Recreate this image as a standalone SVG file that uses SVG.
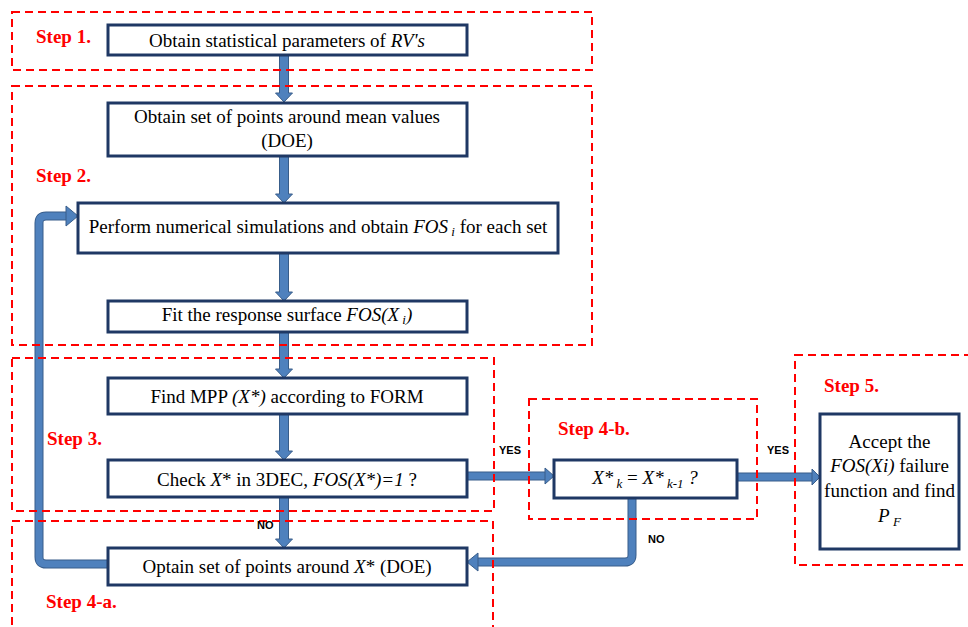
<svg xmlns="http://www.w3.org/2000/svg" width="968" height="627" viewBox="0 0 968 627">
<style>
.dash{fill:none;stroke:#FF0000;stroke-width:2;stroke-dasharray:8 5}
.node{fill:#fff;stroke:#1F3864;stroke-width:3}
.t{font-family:"Liberation Serif","Times New Roman",serif;font-size:19px;fill:#000;text-anchor:middle}
.i{font-style:italic}
.sub{font-style:italic;font-size:13px}
.step{font-family:"Liberation Serif","Times New Roman",serif;font-weight:bold;font-size:19px;fill:#FF0000}
.lbl{font-family:"Liberation Sans",Arial,sans-serif;font-weight:bold;font-size:11px;fill:#000}
.so{fill:none;stroke:#385D8A;stroke-width:9;stroke-linejoin:round}
.si{fill:none;stroke:#4F81BD;stroke-width:7;stroke-linejoin:round}
.ar{fill:#4F81BD;stroke:#385D8A;stroke-width:1}
</style>
<rect width="968" height="627" fill="#fff"/>
<g id="connectors">
  <polygon class="ar" points="279.5,55 288.5,55 288.5,93 292.5,93 284,102 275.5,93 279.5,93"/>
  <polygon class="ar" points="279.5,156 288.5,156 288.5,194 292.5,194 284,203 275.5,194 279.5,194"/>
  <polygon class="ar" points="279.5,253 288.5,253 288.5,292 292.5,292 284,301 275.5,292 279.5,292"/>
  <polygon class="ar" points="279.5,332 288.5,332 288.5,369 292.5,369 284,378 275.5,369 279.5,369"/>
  <polygon class="ar" points="279.5,414 288.5,414 288.5,451 292.5,451 284,460 275.5,451 279.5,451"/>
  <polygon class="ar" points="279.5,497 288.5,497 288.5,539 292.5,539 284,548 275.5,539 279.5,539"/>
  <path class="so" d="M108,564 H46 Q39,564 39,557 V223 Q39,216 46,216 H66"/>
  <path class="si" d="M108,564 H46 Q39,564 39,557 V223 Q39,216 46,216 H66"/>
  <polygon class="ar" points="66,206 78,216 66,226"/>
  <path class="so" d="M467,476 H545"/>
  <path class="si" d="M467,476 H545"/>
  <polygon class="ar" points="545,468 554,476 545,484"/>
  <path class="so" d="M737,477 H812"/>
  <path class="si" d="M737,477 H812"/>
  <polygon class="ar" points="812,469 820,477 812,485"/>
  <path class="so" d="M632,498 V555 Q632,562 625,562 H478"/>
  <path class="si" d="M632,498 V555 Q632,562 625,562 H478"/>
  <polygon class="ar" points="478,553 467,562 478,571"/>
</g>
<g id="n1"><rect class="node" x="108" y="25" width="359" height="30"/>
  <text class="t" x="287" y="47">Obtain statistical parameters of <tspan class="i">RV's</tspan></text></g>
<g id="n2"><rect class="node" x="108" y="103" width="359" height="53"/>
  <text class="t" x="287" y="123">Obtain set of points around mean values</text>
  <text class="t" x="287" y="147">(DOE)</text></g>
<g id="n3"><rect class="node" x="78" y="203" width="480" height="50"/>
  <text class="t" x="318" y="233">Perform numerical simulations and obtain <tspan class="i">FOS</tspan><tspan class="sub" dy="3"> i</tspan><tspan dy="-3">  for each set</tspan></text></g>
<g id="n4"><rect class="node" x="108" y="301" width="359" height="31"/>
  <text class="t" x="287" y="321">Fit the response surface <tspan class="i">FOS(X</tspan><tspan class="sub" dy="3"> i</tspan><tspan class="i" dy="-3">)</tspan></text></g>
<g id="n5"><rect class="node" x="108" y="378" width="359" height="36"/>
  <text class="t" x="287" y="403">Find MPP <tspan class="i">(X*)</tspan>  according to FORM</text></g>
<g id="n6"><rect class="node" x="108" y="460" width="359" height="37"/>
  <text class="t" x="287" y="486">Check <tspan class="i">X</tspan>*  in 3DEC, <tspan class="i">FOS(X*)=1</tspan> ?</text></g>
<g id="n7"><rect class="node" x="108" y="548" width="359" height="37"/>
  <text class="t" x="287" y="573">Optain set of points around <tspan class="i">X</tspan>*  (DOE)</text></g>
<g id="n4b"><rect class="node" x="554" y="460" width="183" height="38"/>
  <text class="t" x="645" y="484"><tspan class="i">X*</tspan><tspan class="sub" dy="4"> k</tspan><tspan dy="-4"> = </tspan><tspan class="i">X*</tspan><tspan class="sub" dy="4"> k-1</tspan><tspan class="i" dy="-4"> ?</tspan></text></g>
<g id="n5s"><rect class="node" x="820" y="414" width="139" height="135"/>
  <text class="t" x="889.5" y="448">Accept the</text>
  <text class="t" x="889.5" y="472"><tspan class="i">FOS(Xi)</tspan>  failure</text>
  <text class="t" x="889.5" y="497">function and find</text>
  <text class="t" x="889.5" y="522"><tspan class="i">P</tspan><tspan class="sub" dy="4"> F</tspan></text></g>
<g id="steps">
  <rect class="dash" x="12" y="12" width="580" height="58"/>
  <rect class="dash" x="12" y="86" width="580" height="259"/>
  <rect class="dash" x="12" y="358" width="482" height="153"/>
  <rect class="dash" x="12" y="521" width="481" height="130"/>
  <rect class="dash" x="529" y="399" width="228" height="120"/>
  <rect class="dash" x="795" y="355" width="200" height="210"/>
  <text class="step" x="36" y="43">Step 1.</text>
  <text class="step" x="36" y="182">Step 2.</text>
  <text class="step" x="47" y="445">Step 3.</text>
  <text class="step" x="46" y="608">Step 4-a.</text>
  <text class="step" x="558" y="435">Step 4-b.</text>
  <text class="step" x="824" y="392">Step 5.</text>
  <text class="lbl" x="499" y="454">YES</text>
  <text class="lbl" x="767" y="454">YES</text>
  <text class="lbl" x="648" y="543">NO</text>
  <text class="lbl" x="257" y="529">NO</text>
</g>
</svg>
